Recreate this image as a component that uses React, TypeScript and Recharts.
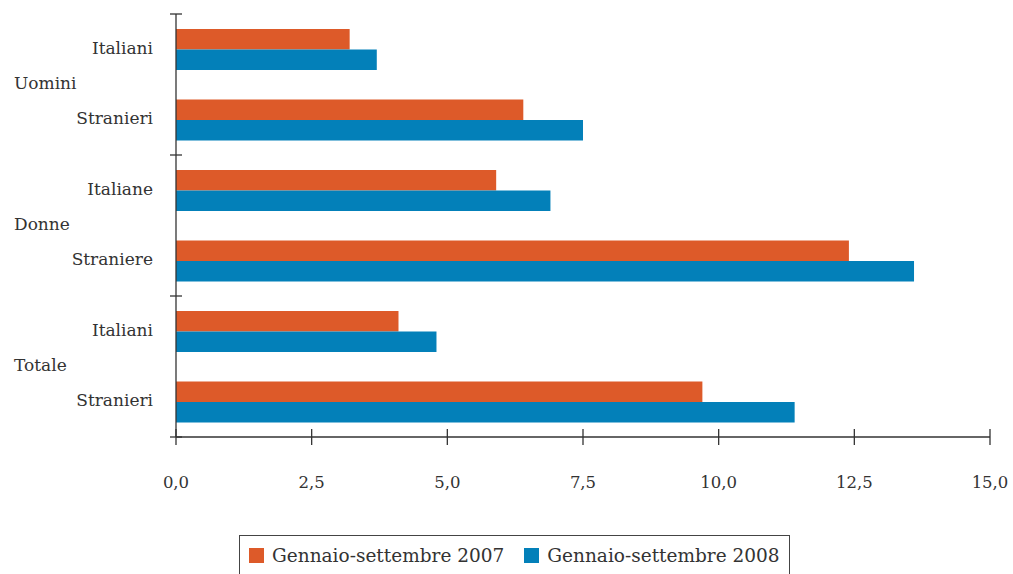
import { BarChart, Bar, XAxis, YAxis, Legend } from 'recharts'

// categories
const groupOf = ['Uomini', 'Uomini', 'Donne', 'Donne', 'Totale', 'Totale']
const subLabels = ['Italiani', 'Stranieri', 'Italiane', 'Straniere', 'Italiani', 'Stranieri']

// series values
const values2007 = [3.2, 6.4, 5.9, 12.4, 4.1, 9.7]
const values2008 = [3.7, 7.5, 6.9, 13.6, 4.8, 11.4]

const seriesNames = ['Gennaio-settembre 2007', 'Gennaio-settembre 2008']

// x ticks
const xTicks = [0, 2.5, 5, 7.5, 10, 12.5, 15]

const ORANGE = '#DD5A29'
const BLUE = '#0380B9'
const AXIS = '#333'
const FONT = "'DejaVu Serif', 'Times New Roman', Times, serif"

const W = 1013
const H = 574
const TOP = 14
const X_AXIS_H = 137
const BAND = (H - TOP - X_AXIS_H) / subLabels.length

const data = subLabels.map((sub, i) => ({
  key: `${groupOf[i]}|${sub}|${i}`,
  a: values2007[i],
  b: values2008[i],
}))

const fmt = (v: number) => v.toFixed(1).replace('.', ',')

const textStyle = { fontFamily: FONT, fill: '#333' }

function XTick(props: any) {
  const { x, y, payload } = props
  return (
    <g>
      <line x1={x} x2={x} y1={y - 8} y2={y + 8} stroke={AXIS} strokeWidth={1.3} />
      <text x={x} y={y + 46} textAnchor="middle" dominantBaseline="middle" fontSize={16.5} style={textStyle}>
        {fmt(payload.value)}
      </text>
    </g>
  )
}

function YTick(props: any) {
  const { x, y, payload, index } = props
  const [group, sub] = String(payload.value).split('|')
  const first = index % 2 === 0
  return (
    <g>
      <text x={x - 23} y={y} textAnchor="end" dominantBaseline="middle" fontSize={17} style={textStyle}>
        {sub}
      </text>
      {first && (
        <>
          <line x1={x - 6} x2={x + 6} y1={y - BAND / 2} y2={y - BAND / 2} stroke={AXIS} strokeWidth={1.3} />
          <text x={14} y={y + BAND / 2} textAnchor="start" dominantBaseline="middle" fontSize={17} style={textStyle}>
            {group}
          </text>
        </>
      )}
      {index === subLabels.length - 1 && (
        <line x1={x - 6} x2={x + 6} y1={y + BAND / 2} y2={y + BAND / 2} stroke={AXIS} strokeWidth={1.3} />
      )}
    </g>
  )
}

function LegendBox() {
  const colors = [ORANGE, BLUE]
  return (
    <div
      style={{
        display: 'flex',
        alignItems: 'center',
        boxSizing: 'border-box',
        width: 551,
        height: 39,
        border: '1.3px solid #444',
        borderBottom: 'none',
        background: '#fff',
        paddingLeft: 9,
        paddingTop: 1,
        fontFamily: FONT,
        fontSize: 18.5,
        color: '#333',
        whiteSpace: 'nowrap',
      }}
    >
      {seriesNames.map((name, i) => (
        <span key={name} style={{ display: 'flex', alignItems: 'center', marginRight: i === 0 ? 20 : 0 }}>
          <span style={{ display: 'inline-block', width: 15, height: 15, background: colors[i], marginRight: 8 }} />
          {name}
        </span>
      ))}
    </div>
  )
}

export default function App() {
  return (
    <div style={{ position: 'absolute', left: 0, top: 0, width: W, height: H, background: '#fff', overflow: 'hidden', fontFamily: FONT }}>
      <BarChart
        width={W}
        height={H}
        data={data}
        layout="vertical"
        margin={{ top: TOP, right: 23, left: 0, bottom: 0 }}
        barGap={0}
        barCategoryGap={0}
        style={{ fontFamily: FONT }}
      >
        <XAxis
          type="number"
          domain={[0, 15]}
          ticks={xTicks}
          height={X_AXIS_H}
          tickSize={0}
          tickMargin={0}
          tickLine={false}
          axisLine={{ stroke: AXIS, strokeWidth: 1.3 }}
          tick={<XTick />}
          interval={0}
        />
        <YAxis
          type="category"
          dataKey="key"
          width={176}
          tickSize={0}
          tickMargin={0}
          tickLine={false}
          axisLine={{ stroke: AXIS, strokeWidth: 1.3 }}
          tick={<YTick />}
          interval={0}
        />
        <Legend
          layout="horizontal"
          verticalAlign="middle"
          align="center"
          content={() => <LegendBox />}
          wrapperStyle={{ position: 'absolute', left: 239, top: 535, width: 551 }}
        />
        <Bar dataKey="a" name={seriesNames[0]} fill={ORANGE} barSize={20.5} isAnimationActive={false} />
        <Bar dataKey="b" name={seriesNames[1]} fill={BLUE} barSize={20.5} isAnimationActive={false} />
      </BarChart>
    </div>
  )
}
